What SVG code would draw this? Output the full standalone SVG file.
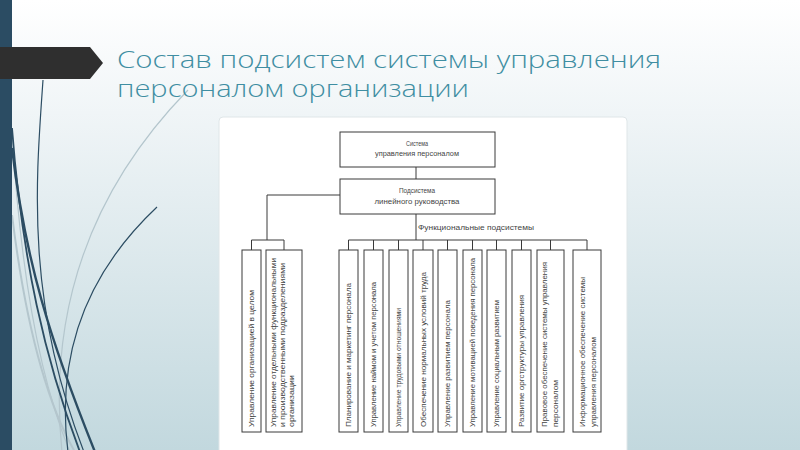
<svg xmlns="http://www.w3.org/2000/svg" width="800" height="450" viewBox="0 0 800 450">
<defs>
<linearGradient id="bg" x1="0" y1="0" x2="0" y2="1">
<stop offset="0" stop-color="#ffffff"/>
<stop offset="0.25" stop-color="#f0f5f7"/>
<stop offset="1" stop-color="#c2d8de"/>
</linearGradient>
<style>
.box{fill:#ffffff;stroke:#3a3a3a;stroke-width:1}
.ln{fill:none;stroke:#3a3a3a;stroke-width:1}
.t{font-family:"Liberation Sans",Arial,sans-serif;font-size:7.5px;fill:#444444}
.h{font-size:7px}
.c{text-anchor:middle}
.title{font-family:"Open Sans","Liberation Sans",sans-serif;font-size:24px;fill:#3f8ea2;font-weight:300}
.dk{fill:none;stroke:#2c4d63}
.lt{fill:none;stroke:#b4c6cd}
</style>
</defs>
<rect x="0" y="0" width="800" height="450" fill="url(#bg)"/>
<g id="decor">
<path class="lt" stroke-width="1.2" d="M188 90 C110 170 45 285 62 452"/>
<path class="lt" stroke-width="2" d="M12 215 C25 320 45 400 75 452"/>
<path class="lt" stroke-width="1.2" d="M12 130 C20 270 40 380 70 452"/>
<path class="dk" stroke-width="1.2" d="M43 80 C36 180 25 300 84 452"/>
<path class="dk" stroke-width="2.4" d="M12 148 C25 260 50 340 95 452"/>
<path class="dk" stroke-width="1.8" d="M12 128 C22 260 45 360 80 452"/>
<path class="dk" stroke-width="1.2" d="M157 207 C90 270 55 350 68 452"/>
</g>
<rect x="0" y="0" width="12" height="450" fill="#2b4c63"/>
<polygon points="0,47 90,47 103,63 90,79 0,79" fill="#2f2f2f"/>
<g id="title">
<text class="title" x="117" y="68" textLength="544" lengthAdjust="spacingAndGlyphs">Состав подсистем системы управления</text>
<text class="title" x="117" y="97" textLength="352" lengthAdjust="spacingAndGlyphs">персоналом организации</text>
</g>
<rect x="219" y="117" width="408" height="345" rx="4" fill="#ffffff" stroke="#dfe6e8" stroke-width="1"/>
<g id="connectors">
<path class="ln" d="M416 167 V179"/>
<path class="ln" d="M340 195 H267 V240"/>
<path class="ln" d="M251.5 250 V240 H284 V250"/>
<path class="ln" d="M416 214 V240"/>
<path class="ln" d="M348.5 250 V240 H587 V250 M373.5 240 V250 M398.5 240 V250 M423 240 V250 M447.5 240 V250 M472.5 240 V250 M496.5 240 V250 M521.5 240 V250 M550.5 240 V250"/>
<text class="t h" x="418" y="230" textLength="116" lengthAdjust="spacingAndGlyphs">Функциональные подсистемы</text>
</g>
<g id="n-system">
<rect class="box" x="340" y="132" width="155" height="35"/>
<text class="t h c" x="417" y="146" textLength="22" lengthAdjust="spacingAndGlyphs">Система</text>
<text class="t h c" x="417" y="156" textLength="84" lengthAdjust="spacingAndGlyphs">управления персоналом</text>
</g>
<g id="n-line">
<rect class="box" x="340" y="179" width="155" height="35"/>
<text class="t h c" x="417" y="193" textLength="36" lengthAdjust="spacingAndGlyphs">Подсистема</text>
<text class="t h c" x="417" y="204" textLength="85" lengthAdjust="spacingAndGlyphs">линейного руководства</text>
</g>
<g id="n1">
<rect class="box" x="242" y="250" width="19" height="182"/>
<text class="t" transform="translate(254,427) rotate(-90)" textLength="137" lengthAdjust="spacingAndGlyphs">Управление организацией в целом</text>
</g>
<g id="n2">
<rect class="box" x="266" y="250" width="36" height="182"/>
<text class="t" transform="translate(275.5,427) rotate(-90)" textLength="169" lengthAdjust="spacingAndGlyphs">Управление отдельными функциональными</text>
<text class="t" transform="translate(284.5,427) rotate(-90)" textLength="164" lengthAdjust="spacingAndGlyphs">и производственными подразделениями</text>
<text class="t" transform="translate(293.5,427) rotate(-90)" textLength="52" lengthAdjust="spacingAndGlyphs">организации</text>
</g>
<g id="n3">
<rect class="box" x="339" y="250" width="19" height="182"/>
<text class="t" transform="translate(351,427) rotate(-90)" textLength="144" lengthAdjust="spacingAndGlyphs">Планирование и маркетинг персонала</text>
</g>
<g id="n4">
<rect class="box" x="364" y="250" width="19" height="182"/>
<text class="t" transform="translate(376,427) rotate(-90)" textLength="145" lengthAdjust="spacingAndGlyphs">Управление наймом и учетом персонала</text>
</g>
<g id="n5">
<rect class="box" x="389" y="250" width="19" height="182"/>
<text class="t" transform="translate(401,427) rotate(-90)" textLength="119" lengthAdjust="spacingAndGlyphs">Управление трудовыми отношениями</text>
</g>
<g id="n6">
<rect class="box" x="413" y="250" width="20" height="182"/>
<text class="t" transform="translate(425.5,427) rotate(-90)" textLength="155" lengthAdjust="spacingAndGlyphs">Обеспечение нормальных условий труда</text>
</g>
<g id="n7">
<rect class="box" x="438" y="250" width="19" height="182"/>
<text class="t" transform="translate(450,427) rotate(-90)" textLength="127" lengthAdjust="spacingAndGlyphs">Управление развитием персонала</text>
</g>
<g id="n8">
<rect class="box" x="463" y="250" width="19" height="182"/>
<text class="t" transform="translate(475,427) rotate(-90)" textLength="169" lengthAdjust="spacingAndGlyphs">Управление мотивацией поведения персонала</text>
</g>
<g id="n9">
<rect class="box" x="487" y="250" width="19" height="182"/>
<text class="t" transform="translate(499,427) rotate(-90)" textLength="127" lengthAdjust="spacingAndGlyphs">Управление социальным развитием</text>
</g>
<g id="n10">
<rect class="box" x="512" y="250" width="19" height="182"/>
<text class="t" transform="translate(524,427) rotate(-90)" textLength="132" lengthAdjust="spacingAndGlyphs">Развитие оргструктуры управления</text>
</g>
<g id="n11">
<rect class="box" x="537" y="250" width="27" height="182"/>
<text class="t" transform="translate(546.5,427) rotate(-90)" textLength="165" lengthAdjust="spacingAndGlyphs">Правовое обеспечение системы управления</text>
<text class="t" transform="translate(557.5,427) rotate(-90)" textLength="47" lengthAdjust="spacingAndGlyphs">персоналом</text>
</g>
<g id="n12">
<rect class="box" x="573" y="250" width="28" height="182"/>
<text class="t" transform="translate(584.5,427) rotate(-90)" textLength="150" lengthAdjust="spacingAndGlyphs">Информационное обеспечение системы</text>
<text class="t" transform="translate(595.5,427) rotate(-90)" textLength="90" lengthAdjust="spacingAndGlyphs">управления персоналом</text>
</g>
</svg>
